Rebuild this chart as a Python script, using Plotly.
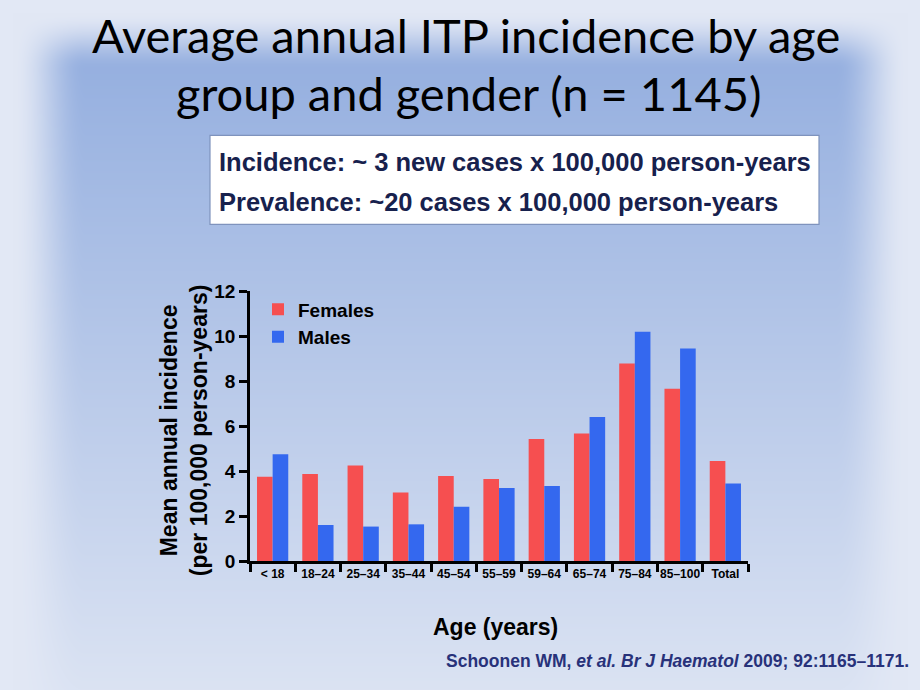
import base64, struct, zlib
import numpy as np
import plotly.graph_objects as go

# ---------------- data ----------------
age_groups = ["< 18", "18–24", "25–34", "35–44", "45–54", "55–59",
              "59–64", "65–74", "75–84", "85–100", "Total"]
females = [3.75, 3.87, 4.24, 3.05, 3.78, 3.64, 5.42, 5.67, 8.78, 7.66, 4.44]
males = [4.74, 1.60, 1.53, 1.63, 2.41, 3.24, 3.33, 6.40, 10.19, 9.45, 3.45]
y_ticks = [0, 2, 4, 6, 8, 10, 12]

# ---------------- layout helpers ----------------
FW, FH = 920, 690
L, R, T, B = 250, 748, 290.7, 561
PW, PH = R - L, B - T


def px(x):
    return (x - L) / PW


def py(y):
    return (B - y) / PH


# ---------------- background gradient image ----------------
def smooth(a, b, v):
    t = np.clip((v - a) / (b - a), 0, 1)
    return t * t * (3 - 2 * t)


yy, xx = np.mgrid[0:FH, 0:FW].astype(float)
top = np.array([150, 176, 224], float)
bot = np.array([219, 227, 243], float)
edge = np.array([226, 232, 245], float)
ty = np.clip((yy - 60) / (FH - 60), 0, 1)[..., None]
inner = top * (1 - ty) + bot * ty
m = (smooth(12, 85, xx) * smooth(908, 835, xx) * smooth(12, 70, yy))[..., None]
img = (edge * (1 - m) + inner * m).clip(0, 255).astype(np.uint8)


def png_bytes(arr):
    h, w, _ = arr.shape
    raw = b"".join(b"\x00" + arr[i].tobytes() for i in range(h))

    def chunk(tag, data):
        c = struct.pack(">I", len(data)) + tag + data
        return c + struct.pack(">I", zlib.crc32(tag + data) & 0xFFFFFFFF)

    return (b"\x89PNG\r\n\x1a\n"
            + chunk(b"IHDR", struct.pack(">IIBBBBB", w, h, 8, 2, 0, 0, 0))
            + chunk(b"IDAT", zlib.compress(raw, 9))
            + chunk(b"IEND", b""))


bg_src = "data:image/png;base64," + base64.b64encode(png_bytes(img)).decode()

# ---------------- figure ----------------
RED = "#f64f50"
BLUE = "#3468ef"
AX = "Liberation Sans, Arial, sans-serif"

fig = go.Figure()
fig.add_trace(go.Bar(x=age_groups, y=females, name="Females",
                     marker=dict(color=RED, line=dict(width=0))))
fig.add_trace(go.Bar(x=age_groups, y=males, name="Males",
                     marker=dict(color=BLUE, line=dict(width=0))))

fig.update_layout(
    width=FW, height=FH,
    margin=dict(l=L, r=FW - R, t=T, b=FH - B, pad=0),
    paper_bgcolor="rgb(226,232,245)",
    plot_bgcolor="rgba(0,0,0,0)",
    barmode="group", bargap=0.31, bargroupgap=0,
    font=dict(family=AX, color="black"),
    showlegend=True,
    legend=dict(x=px(258), y=py(290), xanchor="left", yanchor="top",
                bgcolor="rgba(0,0,0,0)", borderwidth=0,
                font=dict(family=AX, size=19, color="black", weight="bold"),
                tracegroupgap=0),
    images=[dict(source=bg_src, xref="paper", yref="paper",
                 x=px(0), y=py(0), sizex=FW / PW, sizey=FH / PH,
                 xanchor="left", yanchor="top", sizing="stretch",
                 layer="below")],
)

fig.update_xaxes(type="category", range=[-0.5, len(age_groups) - 0.5],
                 showline=True, linewidth=2.5, linecolor="black",
                 ticks="outside", tickson="boundaries", ticklen=8,
                 tickwidth=2.5, tickcolor="black", showgrid=False,
                 zeroline=False, tickangle=0,
                 tickfont=dict(family=AX, size=12, color="black", weight="bold"))
fig.update_yaxes(range=[0, 12], tickvals=y_ticks,
                 showline=True, linewidth=2.5, linecolor="black",
                 ticks="outside", ticklen=8, tickwidth=2.5, tickcolor="black",
                 showgrid=False, zeroline=False,
                 tickfont=dict(family=AX, size=19, color="black", weight="bold"))

# information box
fig.add_shape(type="rect", xref="paper", yref="paper",
              x0=px(210), x1=px(819), y0=py(224), y1=py(135),
              fillcolor="white", line=dict(color="#7f93bd", width=1.2),
              layer="below")

ann = []
TITLE_FONT = "Lato, Open Sans, sans-serif"
ann.append(dict(text="Average annual ITP incidence by age", x=px(466), y=py(34),
                font=dict(family=TITLE_FONT, size=47, color="black")))
ann.append(dict(text="group and gender (n = 1145)", x=px(468), y=py(92),
                font=dict(family=TITLE_FONT, size=47, color="black")))
ann.append(dict(text="<b>Incidence: ~ 3 new cases x 100,000 person-years</b>",
                x=px(217), y=py(162), xanchor="left",
                font=dict(family=AX, size=25.5, color="#17214d")))
ann.append(dict(text="<b>Prevalence: ~20 cases x 100,000 person-years</b>",
                x=px(217), y=py(202), xanchor="left",
                font=dict(family=AX, size=25.5, color="#17214d")))
ann.append(dict(text="<b>Mean annual incidence</b><br><b>(per 100,000 person-years)</b>",
                x=px(184), y=py(430), textangle=-90,
                font=dict(family=AX, size=23, color="black")))
ann.append(dict(text="<b>Age (years)</b>", x=px(495), y=py(627),
                font=dict(family=AX, size=23, color="black")))
ann.append(dict(text="<b>Schoonen WM, <i>et al. Br J Haematol</i> 2009; 92:1165–1171.</b>",
                x=px(911), y=py(661), xanchor="right",
                font=dict(family=AX, size=17.5, color="#28327a")))

for a in ann:
    a.setdefault("xanchor", "center")
    a.update(xref="paper", yref="paper", yanchor="middle", showarrow=False)
    fig.add_annotation(**a)

fig.write_html("out.html", config={"displayModeBar": False},
               post_script="document.body.style.margin='0';document.body.style.overflow='hidden';")
